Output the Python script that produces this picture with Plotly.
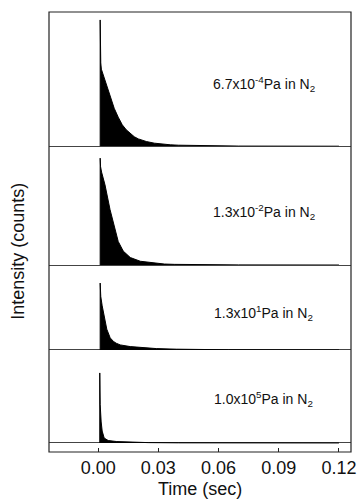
import plotly.graph_objects as go

# ---- data (normalised intensity vs time) ----
t1 = [0.0010, 0.0010, 0.0011, 0.0013, 0.0016, 0.0020, 0.0030, 0.0040, 0.0050, 0.0060, 0.0070, 0.0080,
      0.0100, 0.0120, 0.0140, 0.0160, 0.0180, 0.0200, 0.0240, 0.0280, 0.0320, 0.0360, 0.0400, 0.0500,
      0.0600, 0.0700, 0.1200]
i1 = [0, 1.00, 0.78, 0.66, 0.61, 0.59, 0.55, 0.49, 0.44, 0.39, 0.34, 0.30,
      0.23, 0.17, 0.13, 0.10, 0.075, 0.058, 0.037, 0.024, 0.016, 0.011, 0.008, 0.004,
      0.002, 0.001, 0]

t2 = [0.0010, 0.0010, 0.0012, 0.0017, 0.0034, 0.0059, 0.0084, 0.0100, 0.0125, 0.0160, 0.0210,
      0.0290, 0.0330, 0.0380, 0.0450, 0.0550, 0.0700, 0.1200]
i2 = [0, 1.00, 0.92, 0.87, 0.75, 0.52, 0.34, 0.22, 0.13, 0.07, 0.035,
      0.013, 0.009, 0.006, 0.004, 0.002, 0.001, 0]

t3 = [0.0010, 0.0010, 0.0013, 0.0020, 0.0030, 0.0043, 0.0060, 0.0077, 0.0090, 0.0110, 0.0160,
      0.0230, 0.0290, 0.0390, 0.0500, 0.0650, 0.1200]
i3 = [0, 1.00, 0.80, 0.66, 0.48, 0.31, 0.18, 0.125, 0.10, 0.075, 0.05,
      0.03, 0.02, 0.011, 0.006, 0.002, 0]

t4 = [0.0008, 0.0008, 0.0010, 0.0015, 0.0020, 0.0030, 0.0050, 0.0093, 0.0160, 0.0250, 0.0400, 0.1200]
i4 = [0, 1.00, 0.55, 0.30, 0.17, 0.07, 0.035, 0.02, 0.01, 0.005, 0.002, 0]

labels = ["6.7x10<sup>-4</sup>Pa in N<sub>2</sub>",
          "1.3x10<sup>-2</sup>Pa in N<sub>2</sub>",
          "1.3x10<sup>1</sup>Pa in N<sub>2</sub>",
          "1.0x10<sup>5</sup>Pa in N<sub>2</sub>"]

tick_vals = [0.00, 0.03, 0.06, 0.09, 0.12]
tick_text = ["0.00", "0.03", "0.06", "0.09", "0.12"]

times = [t1, t2, t3, t4]
intens = [i1, i2, i3, i4]

# ---- layout geometry ----
domains = [[0.695, 1.0], [0.425, 0.695], [0.232, 0.425], [0.0, 0.232]]
ranges = [[0, 1.063], [0, 1.112], [0, 1.27], [-0.129, 1.329]]
label_y = [0.463, 0.445, 0.435, 0.52]

FONT = "Liberation Sans, Arial, sans-serif"

fig = go.Figure()
for k in range(4):
    ya = "y" if k == 0 else f"y{k+1}"
    fig.add_trace(go.Scatter(
        x=times[k], y=intens[k], mode="lines", yaxis=ya, xaxis="x",
        line=dict(color="black", width=1), fill="tozeroy", fillcolor="black",
        hoverinfo="skip", showlegend=False))

layout = dict(
    width=359, height=499,
    margin=dict(l=49, r=8, t=12, b=47),
    paper_bgcolor="white", plot_bgcolor="white",
    font=dict(family=FONT, color="black"),
    xaxis=dict(range=[-0.0245, 0.126], anchor="y4", showgrid=False, zeroline=False,
               ticks="inside", ticklen=4, tickwidth=1, tickcolor="#222",
               tickvals=tick_vals, ticktext=tick_text, ticklabelstandoff=3,
               tickfont=dict(size=18, family=FONT, color="#111"),
               automargin=False, showline=False),
)
for k in range(4):
    key = "yaxis" if k == 0 else f"yaxis{k+1}"
    layout[key] = dict(domain=domains[k], range=ranges[k], showgrid=False,
                       showticklabels=False, ticks="", showline=False,
                       zeroline=True, zerolinecolor="#444", zerolinewidth=1,
                       anchor="x", automargin=False)
fig.update_layout(**layout)

for k in range(4):
    yref = "y domain" if k == 0 else f"y{k+1} domain"
    fig.add_annotation(x=0.0825, xref="x", y=label_y[k], yref=yref,
                       text=labels[k], showarrow=False, xanchor="center", yanchor="middle",
                       font=dict(size=14, family=FONT, color="#111"))

fig.add_annotation(x=0, xref="paper", xshift=-31, y=0.455, yref="paper",
                   text="Intensity (counts)", textangle=-90, showarrow=False,
                   xanchor="center", yanchor="middle",
                   font=dict(size=18, family=FONT, color="#111"))

fig.add_annotation(x=0.5, xref="paper", y=0, yref="paper", yshift=-37,
                   text="Time (sec)", showarrow=False,
                   xanchor="center", yanchor="middle",
                   font=dict(size=18, family=FONT, color="#111"))

fig.add_shape(type="rect", xref="paper", yref="paper", x0=0, x1=1, y0=0, y1=1,
              line=dict(color="#222", width=1.2), fillcolor="rgba(0,0,0,0)", layer="above")

fig.write_html("out.html")
